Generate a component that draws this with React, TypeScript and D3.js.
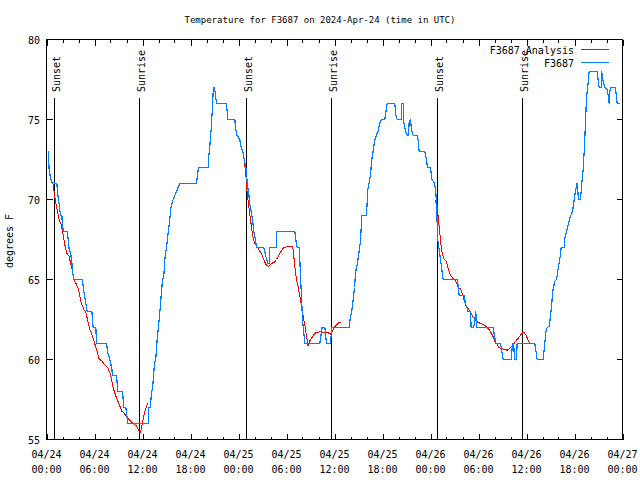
import React from "react";
import * as d3 from "d3";

// hours since 2024-04-24 00:00 UTC, temperature in °F
const observed: [number, number][] = [
  [0.21,73.06],[0.33,71.88],[0.46,71.46],[0.67,71.08],[1.29,71.0],[1.42,70.31],[1.58,69.69],[1.75,69.0],[1.92,69.0],[2.0,68.33],[2.17,68.0],[2.58,68.0],[2.67,67.7],[2.83,66.9],[3.0,66.7],[3.17,66.04],[3.25,65.5],[3.42,65.0],[4.5,65.0],[4.58,64.6],[4.75,63.96],[4.92,63.5],[5.08,63.0],[5.67,63.0],[5.83,62.0],[6.17,62.0],[6.25,61.0],[7.5,61.0],[7.67,60.4],[7.92,60.0],[8.17,59.4],[8.25,59.0],[8.75,59.0],[8.92,58.0],[9.5,58.0],[9.67,57.0],[9.92,57.0],[10.17,56.0],[12.7,56.0],[12.7,57.0],[12.99,57.0],[13.1,57.81],[13.25,58.23],[13.37,58.85],[13.5,59.79],[13.66,60.0],[13.83,61.25],[14.0,62.08],[14.16,62.92],[14.33,63.96],[14.5,65.0],[14.66,65.2],[14.83,66.46],[15.0,67.0],[15.16,67.71],[15.41,68.75],[15.58,69.58],[15.83,70.0],[16.16,70.4],[16.66,71.0],[18.74,71.0],[19.0,72.0],[20.2,72.0],[20.29,72.71],[20.41,73.33],[20.58,74.38],[20.7,75.42],[20.83,76.67],[20.95,77.0],[21.08,76.7],[21.25,76.0],[22.5,76.0],[22.66,75.0],[23.54,75.0],[23.62,74.58],[23.75,74.06],[24.16,73.75],[24.37,73.13],[24.5,73.1],[24.79,72.29],[25.0,71.77],[25.08,71.04],[25.29,70.31],[25.41,69.69],[25.58,69.27],[25.75,68.75],[25.91,68.02],[26.12,67.5],[26.25,67.0],[27.16,67.0],[27.41,66.46],[27.66,66.0],[27.83,66.0],[27.83,67.0],[28.75,67.0],[28.75,68.0],[31.04,68.0],[31.16,67.5],[31.33,67.0],[31.58,67.0],[31.66,66.25],[31.79,64.79],[31.91,63.54],[32.0,62.5],[32.16,61.67],[32.29,61.0],[34.16,61.0],[34.45,62.0],[34.79,62.0],[35.0,61.0],[35.5,61.0],[35.66,62.0],[37.83,62.0],[38.0,62.7],[38.16,63.0],[38.33,63.75],[38.5,64.5],[38.66,65.52],[38.87,66.04],[39.08,66.77],[39.25,67.4],[39.41,69.0],[40.0,69.0],[40.16,70.63],[40.33,71.04],[40.5,71.56],[40.66,72.5],[40.83,73.02],[41.0,73.65],[41.25,74.06],[41.45,74.27],[41.66,74.79],[41.87,75.0],[42.29,75.0],[42.41,75.42],[42.58,76.0],[43.54,76.0],[43.66,75.31],[43.83,75.0],[44.33,75.0],[44.41,76.0],[44.58,76.0],[44.66,74.79],[45.0,74.06],[45.25,74.0],[45.33,74.79],[45.5,75.0],[45.62,74.38],[45.83,74.0],[46.33,74.0],[46.45,73.75],[46.58,73.0],[47.29,73.0],[47.5,72.5],[47.62,72.0],[48.0,72.0],[48.16,71.25],[48.5,71.04],[48.66,70.52],[48.75,69.69],[48.83,68.54],[48.91,67.5],[49.08,66.88],[49.25,66.25],[49.41,65.63],[49.58,65.0],[51.33,65.0],[51.5,64.48],[51.58,64.0],[52.25,64.0],[52.33,63.54],[52.58,63.23],[52.66,63.0],[53.0,63.0],[53.08,62.0],[53.41,62.0],[53.66,63.0],[53.75,62.0],[55.83,62.0],[56.0,61.46],[56.16,61.0],[56.75,61.0],[56.91,60.52],[57.08,60.0],[58.08,60.0],[58.16,60.46],[58.25,61.0],[58.4,61.0],[58.5,60.0],[58.75,60.0],[58.83,61.0],[61.04,61.0],[61.25,60.3],[61.33,60.0],[62.08,60.0],[62.25,60.83],[62.41,61.67],[62.58,62.0],[62.83,62.08],[63.0,62.7],[63.12,63.33],[63.33,64.4],[63.54,64.9],[63.75,65.0],[63.83,65.25],[64.0,65.8],[64.16,66.25],[64.33,67.0],[64.75,67.0],[64.75,67.5],[65.0,68.0],[65.25,68.5],[65.41,68.85],[65.58,69.06],[65.75,69.27],[65.91,69.8],[66.08,70.4],[66.25,70.83],[66.33,71.04],[66.5,70.0],[66.75,70.0],[66.91,71.0],[67.08,71.88],[67.25,73.33],[67.37,74.79],[67.5,76.35],[67.7,77.29],[67.83,78.0],[68.83,78.0],[69.0,77.29],[69.08,77.0],[69.33,77.0],[69.41,78.0],[69.5,77.6],[69.66,77.2],[69.83,77.0],[70.08,76.88],[70.25,76.35],[70.33,76.0],[70.41,76.77],[70.58,77.0],[71.08,77.0],[71.16,76.77],[71.33,76.0],[71.66,76.0]
];

const analysis1: [number, number][] = [
  [0.8,71.04],[0.92,70.63],[1.08,70.0],[1.33,69.38],[1.58,68.75],[1.83,68.44],[2.0,68.02],[2.17,67.5],[2.33,67.08],[2.5,66.67],[2.83,66.46],[3.0,66.04],[3.25,65.52],[3.42,65.0],[3.75,64.69],[3.92,64.48],[4.08,64.17],[4.33,63.54],[4.67,63.13],[4.92,62.92],[5.17,62.4],[5.42,61.88],[5.75,61.46],[6.0,61.04],[6.25,60.63],[6.58,60.04],[6.92,59.9],[7.25,59.69],[7.67,59.48],[7.92,59.17],[8.08,58.85],[8.33,58.23],[8.67,57.71],[8.92,57.4],[9.17,57.08],[9.42,56.77],[9.67,56.67],[9.92,56.5],[10.33,56.25],[10.75,56.04],[11.17,55.88],[11.5,55.63],[11.71,55.42],[11.83,55.63],[12.0,56.04],[12.25,56.67],[12.5,57.08],[12.67,57.29]
];
const analysis2: [number, number][] = [
  [24.66,72.25],[24.83,71.98],[24.92,71.56],[25.0,71.04],[25.08,70.42],[25.2,69.9],[25.33,69.38],[25.5,68.75],[25.66,68.13],[25.83,67.6],[26.0,67.3],[26.25,67.08],[26.45,66.98],[26.66,66.77],[26.91,66.56],[27.08,66.35],[27.33,66.04],[27.5,65.88],[27.75,65.83],[28.0,65.92],[28.25,66.04],[28.5,66.08],[28.75,66.25],[29.08,66.56],[29.33,66.77],[29.58,66.96],[30.0,67.04],[30.41,67.08],[30.75,67.04],[30.83,66.88],[30.95,66.25],[31.08,65.63],[31.25,65.0],[31.45,64.58],[31.66,63.96],[31.88,63.33],[32.08,62.71],[32.33,62.08],[32.5,61.46],[32.7,60.83],[32.9,61.15],[33.16,61.35],[33.41,61.56],[33.66,61.67],[34.0,61.71],[34.25,61.77],[34.5,61.67],[34.75,61.71],[35.08,61.71],[35.33,61.63],[35.5,61.58],[35.75,61.77],[36.0,62.04],[36.33,62.19],[36.58,62.33],[36.87,62.3]
];
const analysis3: [number, number][] = [
  [48.54,70.0],[48.83,69.6],[48.95,68.96],[49.08,68.33],[49.2,67.71],[49.33,67.08],[49.5,66.56],[49.66,66.29],[49.9,66.2],[50.08,65.94],[50.25,65.63],[50.5,65.25],[50.75,65.1],[51.0,65.0],[51.25,64.79],[51.5,64.48],[51.75,64.42],[52.0,64.06],[52.25,63.65],[52.5,63.29],[52.75,63.17],[53.0,62.92],[53.25,62.71],[53.58,62.5],[53.9,62.33],[54.25,62.25],[54.58,62.19],[54.83,62.13],[55.08,61.98],[55.33,61.88],[55.58,61.67],[55.83,61.42],[56.08,61.08],[56.33,60.94],[56.58,60.73],[56.92,60.69],[57.25,60.63],[57.58,60.58],[57.83,60.67],[58.16,60.83],[58.5,61.04],[58.83,61.25],[59.16,61.46],[59.5,61.67],[59.75,61.67],[60.0,61.46],[60.25,61.15],[60.5,61.0]
];

const sunTimes = [0.92, 11.58, 24.95, 35.54, 48.83, 59.45];
const sunLabels = ["Sunset", "Sunrise", "Sunset", "Sunrise", "Sunset", "Sunrise"];

const xTickHours = [0, 6, 12, 18, 24, 30, 36, 42, 48, 54, 60, 66, 72];
const xTickDates = ["04/24","04/24","04/24","04/24","04/25","04/25","04/25","04/25","04/26","04/26","04/26","04/26","04/27"];
const xTickTimes = ["00:00","06:00","12:00","18:00","00:00","06:00","12:00","18:00","00:00","06:00","12:00","18:00","00:00"];
const yTicks = [55, 60, 65, 70, 75, 80];

const title = "Temperature for F3687 on 2024-Apr-24 (time in UTC)";
const yLabel = "degrees F";
const seriesNames = ["F3687 Analysis", "F3687"];
const seriesColors = ["#ff0000", "#0080ff"];

const W = 640, H = 480;
const L = 46.5, R = 622.5, T = 39.5, B = 439.5;
const font = "'DejaVu Sans Mono', monospace";

export default function App() {
  const x = d3.scaleLinear().domain([0, 72]).range([L, R]);
  const y = d3.scaleLinear().domain([55, 80]).range([B, T]);
  const line = d3.line<[number, number]>().x(d => x(d[0])).y(d => y(d[1]));
  const minor = d3.range(0, 73, 2).filter(h => h % 6 !== 0);

  return (
    <svg width={W} height={H} style={{ position: "absolute", left: 0, top: 0, background: "#fff" }}
      fontFamily={font}>
      <rect x={0} y={0} width={W} height={H} fill="#fff" />
      <text x={320} y={22.5} fontSize={9} textAnchor="middle">{title}</text>
      <text transform={`translate(13,241) rotate(-90)`} fontSize={10} textAnchor="middle">{yLabel}</text>

      {/* ticks */}
      <g stroke="#000" shapeRendering="crispEdges">
        {xTickHours.map(h => (
          <g key={"M" + h}>
            <line x1={Math.round(x(h)) + 0.5} x2={Math.round(x(h)) + 0.5} y1={B} y2={B - 6} />
            <line x1={Math.round(x(h)) + 0.5} x2={Math.round(x(h)) + 0.5} y1={T} y2={T + 6} />
          </g>
        ))}
        {minor.map(h => (
          <g key={"m" + h}>
            <line x1={Math.round(x(h)) + 0.5} x2={Math.round(x(h)) + 0.5} y1={B} y2={B - 3} />
            <line x1={Math.round(x(h)) + 0.5} x2={Math.round(x(h)) + 0.5} y1={T} y2={T + 3} />
          </g>
        ))}
        {yTicks.map(v => (
          <g key={"y" + v}>
            <line x1={L} x2={L + 6} y1={y(v)} y2={y(v)} />
            <line x1={R} x2={R - 6} y1={y(v)} y2={y(v)} />
          </g>
        ))}
      </g>
      {yTicks.map(v => (
        <text key={"yl" + v} x={40} y={y(v) + 4} fontSize={10} textAnchor="end">{v}</text>
      ))}
      {xTickHours.map((h, i) => (
        <g key={"xl" + h} fontSize={10} textAnchor="middle">
          <text x={x(h)} y={458}>{xTickDates[i]}</text>
          <text x={x(h)} y={473}>{xTickTimes[i]}</text>
        </g>
      ))}

      {/* sunrise / sunset */}
      {sunTimes.map((h, i) => {
        const px = Math.round(x(h)) + 0.5;
        return (
          <g key={"s" + i}>
            <line x1={px} x2={px} y1={98} y2={B} stroke="#000" shapeRendering="crispEdges" />
            <text transform={`translate(${px + 5},92) rotate(-90)`} fontSize={10} textAnchor="start">{sunLabels[i]}</text>
          </g>
        );
      })}

      {/* data */}
      {[analysis1, analysis2, analysis3].map((seg, i) => (
        <path key={"a" + i} d={line(seg) || ""} fill="none" stroke={seriesColors[0]} strokeWidth={1} shapeRendering="crispEdges" />
      ))}
      <path d={line(observed) || ""} fill="none" stroke={seriesColors[1]} strokeWidth={1.2} shapeRendering="crispEdges" />

      {/* frame */}
      <rect x={L} y={T} width={R - L} height={B - T} fill="none" stroke="#000" shapeRendering="crispEdges" />

      {/* legend */}
      {seriesNames.map((n, i) => (
        <g key={"lg" + i}>
          <text x={574} y={54 + i * 13} fontSize={10} textAnchor="end">{n}</text>
          <line x1={581} x2={609} y1={49.5 + i * 13} y2={49.5 + i * 13} stroke={seriesColors[i]} shapeRendering="crispEdges" />
        </g>
      ))}
    </svg>
  );
}
